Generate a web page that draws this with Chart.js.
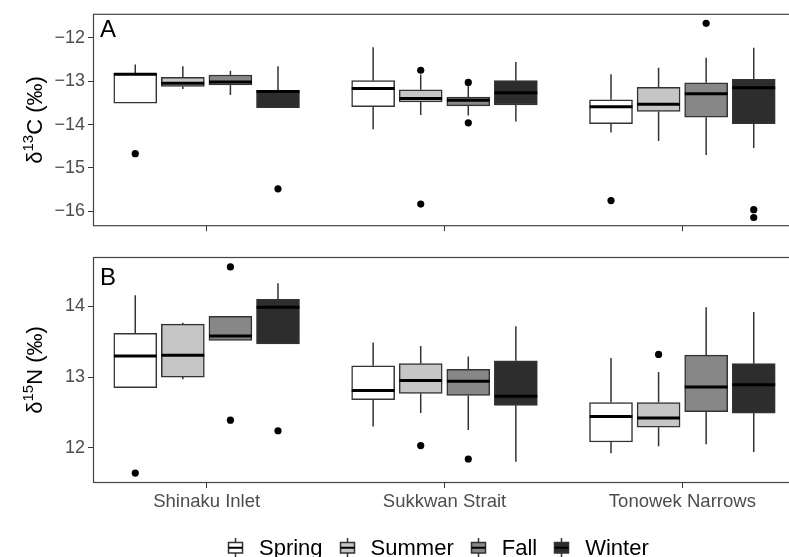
<!DOCTYPE html>
<html>
<head>
<meta charset="utf-8">
<script src="https://cdn.jsdelivr.net/npm/chart.js@4.4.1/dist/chart.umd.min.js"></script>
<style>
  html, body { margin: 0; padding: 0; background: #fff; }
  #wrap { position: relative; width: 789px; height: 557px; overflow: hidden; }
  .panel { position: absolute; left: 0; width: 800px; }
  #topPanel { top: 0; height: 240px; }
  #botPanel { top: 240px; height: 317px; }
  #legend { position: absolute; left: 227px; top: 536px; display: flex; align-items: flex-start;
            font: 22px "Liberation Sans", Arial, sans-serif; color: #000; white-space: nowrap; }
  #legend svg { display: block; }
  #legend span { margin-left: 15px; margin-right: 16px; line-height: 22px; margin-top: 1px; }
</style>
</head>
<body>
<div id="wrap">
  <div class="panel" id="topPanel"><canvas id="c13"></canvas></div>
  <div class="panel" id="botPanel"><canvas id="n15"></canvas></div>
  <div id="legend"></div>
</div>
<script>
const sites = ['Shinaku Inlet', 'Sukkwan Strait', 'Tonowek Narrows'];
const seasons = ['Spring', 'Summer', 'Fall', 'Winter'];

// [lower whisker, Q1, median, Q3, upper whisker] for each site
const c13Spring = [[-13.51, -13.51, -12.84, -12.82, -12.62], [-14.11, -13.59, -13.17, -12.99, -12.22], [-14.18, -13.98, -13.59, -13.43, -12.84]];
const c13Summer = [[-13.18, -13.12, -13.05, -12.91, -12.66], [-13.78, -13.48, -13.40, -13.20, -12.85], [-14.38, -13.70, -13.53, -13.14, -12.69]];
const c13Fall   = [[-13.32, -13.09, -13.02, -12.86, -12.76], [-13.79, -13.57, -13.44, -13.37, -13.10], [-14.70, -13.83, -13.29, -13.04, -12.46]];
const c13Winter = [[-13.61, -13.61, -13.24, -13.21, -12.66], [-13.93, -13.55, -13.27, -12.99, -12.56], [-14.54, -13.98, -13.15, -12.96, -12.23]];
const c13SpringOut = [[-14.67], [], [-15.75]];
const c13SummerOut = [[], [-12.75, -15.83], []];
const c13FallOut   = [[], [-13.03, -13.96], [-11.67]];
const c13WinterOut = [[-15.48], [], [-15.96, -16.14]];

const n15Spring = [[12.85, 12.85, 13.30, 13.62, 14.16], [12.30, 12.68, 12.81, 13.16, 13.49], [11.92, 12.08, 12.44, 12.64, 13.27]];
const n15Summer = [[12.97, 13.00, 13.31, 13.75, 13.77], [12.49, 12.77, 12.95, 13.19, 13.44], [12.02, 12.29, 12.42, 12.64, 13.07]];
const n15Fall   = [[13.52, 13.52, 13.58, 13.86, 13.86], [12.25, 12.74, 12.94, 13.11, 13.29], [12.05, 12.51, 12.86, 13.31, 13.99]];
const n15Winter = [[13.47, 13.47, 13.99, 14.10, 14.33], [11.80, 12.60, 12.73, 13.23, 13.72], [11.94, 12.49, 12.89, 13.19, 13.92]];
const n15SpringOut = [[11.64], [], []];
const n15SummerOut = [[], [12.03], [13.32]];
const n15FallOut   = [[14.56, 12.39], [11.84], []];
const n15WinterOut = [[12.24], [], []];

const c13Ticks = [-16, -15, -14, -13, -12];
const n15Ticks = [12, 13, 14];

const dodge = [-0.3, -0.1, 0.1, 0.3];
const fills = ['#ffffff', '#c6c6c6', '#878787', '#2d2d2d'];
const halfBox = 0.09;
const FONT = '"Liberation Sans", Arial, sans-serif';

function buildDatasets(stats, outs) {
  const boxes = [], whisk = [], meds = [], pts = [];
  stats.forEach((rows, s) => {
    boxes.push({
      type: 'bar',
      label: seasons[s],
      data: rows.map((r, i) => ({ x: i + 1 + dodge[s], y: [r[1], r[3]] })),
      backgroundColor: fills[s],
      borderColor: '#333333',
      borderWidth: 1.5,
      borderSkipped: false,
      grouped: false,
      barThickness: 43,
      order: 2
    });
    rows.forEach((r, i) => {
      const x = i + 1 + dodge[s];
      whisk.push({ x, y: r[0] }, { x, y: r[1] }, { x, y: null }, { x, y: r[3] }, { x, y: r[4] }, { x, y: null });
      meds.push({ x: x - halfBox, y: r[2] }, { x: x + halfBox, y: r[2] }, { x, y: null });
    });
    outs[s].forEach((vals, i) => vals.forEach(v => pts.push({ x: i + 1 + dodge[s], y: v })));
  });
  return [
    ...boxes,
    { type: 'line', data: whisk, borderColor: '#333333', borderWidth: 1.5, pointRadius: 0, spanGaps: false, order: 3 },
    { type: 'line', data: meds, borderColor: '#000000', borderWidth: 3, borderCapStyle: 'butt', pointRadius: 0, spanGaps: false, order: 1 },
    { type: 'line', data: pts, showLine: false, pointRadius: 3.6, pointBackgroundColor: '#000', pointBorderWidth: 0, order: 0 }
  ];
}

const panelDeco = {
  id: 'panelDeco',
  afterDraw(chart, args, opts) {
    const { ctx, chartArea: a } = chart;
    ctx.save();
    ctx.strokeStyle = '#444444';
    ctx.lineWidth = 1.2;
    ctx.strokeRect(a.left + 0.5, a.top + 0.5, a.right - a.left - 1, a.bottom - a.top - 1);

    ctx.fillStyle = '#000';
    ctx.font = '24px ' + FONT;
    ctx.textAlign = 'left';
    ctx.textBaseline = 'alphabetic';
    ctx.fillText(opts.letter, a.left + 7, a.top + opts.letterDrop);

    // rotated axis title with superscript isotope mass
    const big = '22px ' + FONT, small = '15px ' + FONT;
    const parts = [['δ', big, 0], [opts.iso, small, -9], [opts.el + ' (‰)', big, 0]];
    let total = 0;
    parts.forEach(p => { ctx.font = p[1]; total += ctx.measureText(p[0]).width; });
    ctx.translate(42, (a.top + a.bottom) / 2);
    ctx.rotate(-Math.PI / 2);
    let x = -total / 2;
    parts.forEach(p => {
      ctx.font = p[1];
      ctx.fillText(p[0], x, p[2]);
      x += ctx.measureText(p[0]).width;
    });
    ctx.restore();
  }
};

function makeChart(id, stats, outs, ticks, yMin, yMax, showLabels, deco, padTop, xHeight) {
  return new Chart(document.getElementById(id), {
    type: 'bar',
    data: { datasets: buildDatasets(stats, outs) },
    plugins: [panelDeco],
    options: {
      responsive: true,
      maintainAspectRatio: false,
      animation: false,
      layout: { padding: { top: padTop, right: 3, left: 0, bottom: 0 } },
      plugins: { legend: { display: false }, tooltip: { enabled: false }, panelDeco: deco },
      scales: {
        x: {
          type: 'linear',
          offset: false,
          min: 0.5223,
          max: 3.4777,
          afterBuildTicks: s => { s.ticks = sites.map((_, i) => ({ value: i + 1 })); },
          afterFit: s => { s.height = xHeight; },
          grid: { offset: false, drawOnChartArea: false, drawTicks: true, tickLength: 5, tickColor: '#333333' },
          border: { display: false },
          ticks: {
            maxRotation: 0,
            autoSkip: false,
            padding: 3,
            color: '#4d4d4d',
            font: { family: FONT, size: 18.5 },
            callback: v => showLabels ? sites[v - 1] : ''
          }
        },
        y: {
          min: yMin,
          max: yMax,
          afterBuildTicks: s => { s.ticks = ticks.map(v => ({ value: v })); },
          afterFit: s => { s.width = 93; },
          grid: { drawOnChartArea: false, drawTicks: true, tickLength: 5, tickColor: '#333333' },
          border: { display: false },
          ticks: {
            padding: 3,
            color: '#4d4d4d',
            font: { family: FONT, size: 18 },
            callback: v => v < 0 ? '\u2212' + Math.abs(v) : String(v)
          }
        }
      }
    }
  });
}

makeChart('c13', [c13Spring, c13Summer, c13Fall, c13Winter], [c13SpringOut, c13SummerOut, c13FallOut, c13WinterOut],
  c13Ticks, -16.34, -11.45, false, { letter: 'A', letterDrop: 23, iso: '13', el: 'C' }, 12, 10);
makeChart('n15', [n15Spring, n15Summer, n15Fall, n15Winter], [n15SpringOut, n15SummerOut, n15FallOut, n15WinterOut],
  n15Ticks, 11.50, 14.70, true, { letter: 'B', letterDrop: 28, iso: '15', el: 'N' }, 17, 74);

// legend
const legend = document.getElementById('legend');
seasons.forEach((name, s) => {
  const svg = `<svg width="17" height="22" viewBox="0 0 17 22">
    <line x1="8.5" y1="2" x2="8.5" y2="22" stroke="#333" stroke-width="1.5"/>
    <rect x="1.5" y="6.5" width="14" height="10.5" fill="${fills[s]}" stroke="#333" stroke-width="1.5"/>
    <line x1="1.5" y1="11.75" x2="15.5" y2="11.75" stroke="#000" stroke-width="2"/>
  </svg>`;
  legend.insertAdjacentHTML('beforeend', svg + `<span>${name}</span>`);
});
</script>
</body>
</html>
